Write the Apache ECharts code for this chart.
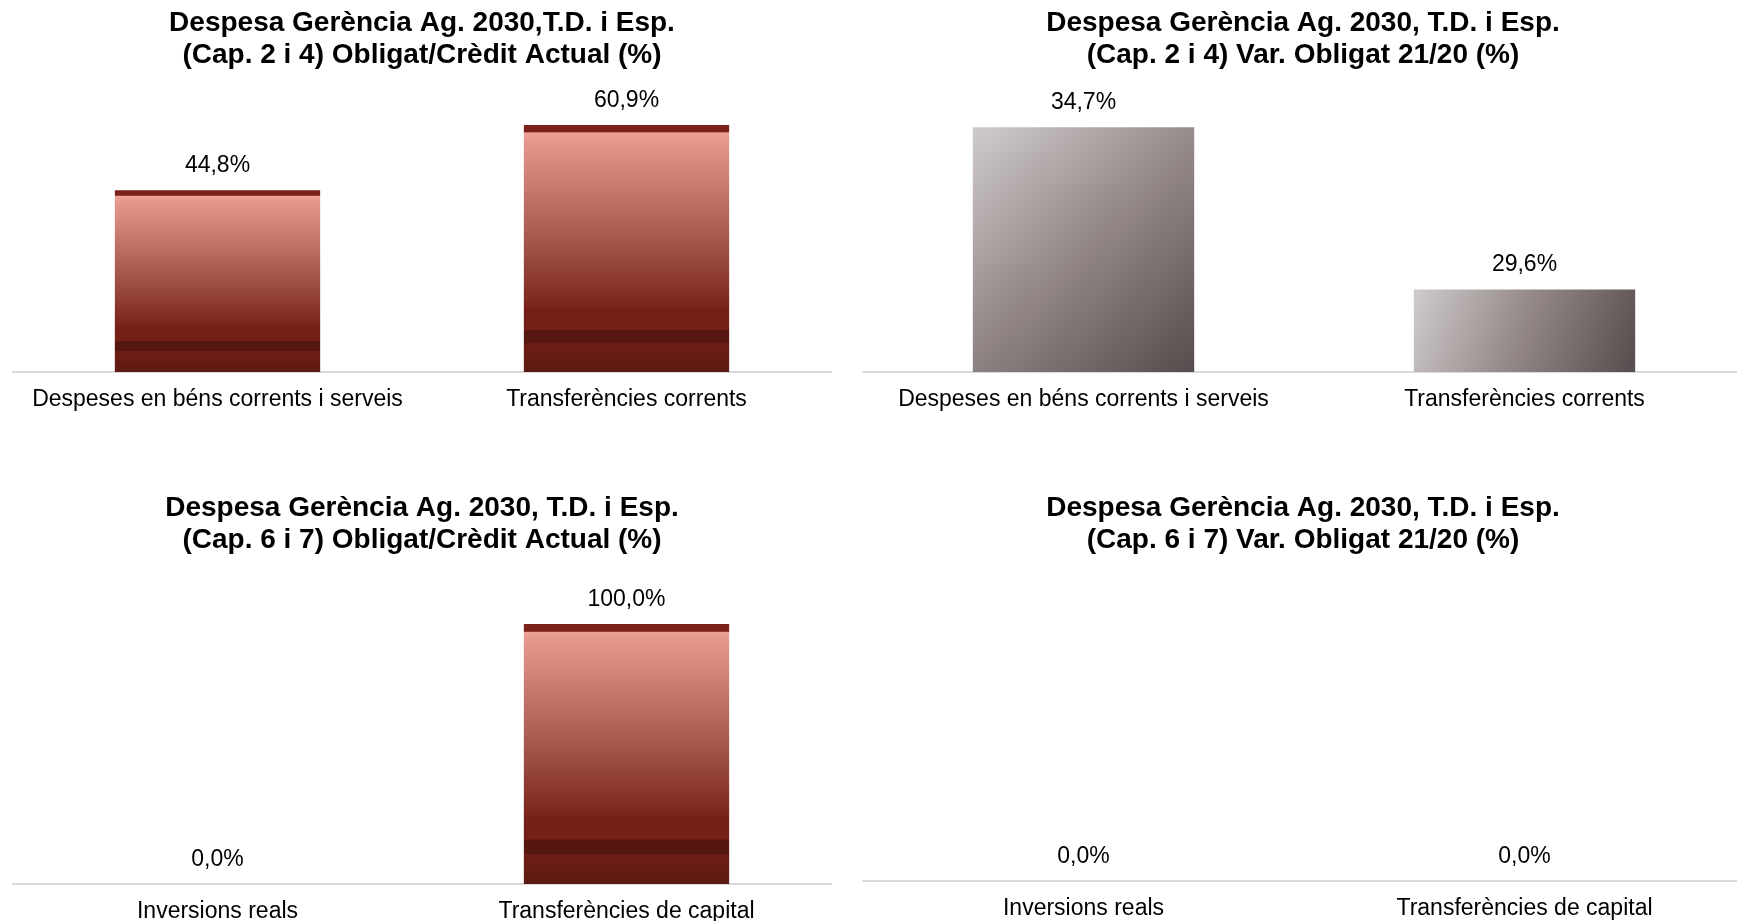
<!DOCTYPE html>
<html>
<head>
<meta charset="utf-8">
<script src="https://cdn.jsdelivr.net/npm/echarts@6/dist/echarts.min.js"></script>
<style>
html,body{margin:0;padding:0;background:#fff;}
#chart{width:1737px;height:921px;}
</style>
</head>
<body>
<div id="chart"></div>
<script>
// ---- data ----
const catsCap24 = ['Despeses en béns corrents i serveis', 'Transferències corrents'];
const catsCap67 = ['Inversions reals', 'Transferències de capital'];
const obligCap24 = [44.8, 60.9];
const varCap24 = [34.7, 29.6];
const obligCap67 = [0.0, 100.0];
const varCap67 = [0.0, 0.0];
const titleTexts = [
  'Despesa Gerència Ag. 2030,T.D. i Esp.\n(Cap. 2 i 4) Obligat/Crèdit Actual (%)',
  'Despesa Gerència Ag. 2030, T.D. i Esp.\n(Cap. 2 i 4) Var. Obligat 21/20 (%)',
  'Despesa Gerència Ag. 2030, T.D. i Esp.\n(Cap. 6 i 7) Obligat/Crèdit Actual (%)',
  'Despesa Gerència Ag. 2030, T.D. i Esp.\n(Cap. 6 i 7) Var. Obligat 21/20 (%)'
];

const FONT = '"Liberation Sans", Arial, sans-serif';

const redFill = {
  type: 'linear', x: 0, y: 0, x2: 0, y2: 1,
  colorStops: [
    { offset: 0, color: '#7a2218' },
    { offset: 0.028, color: '#7a2218' },
    { offset: 0.032, color: '#eca296' },
    { offset: 0.06, color: '#e6988c' },
    { offset: 0.46, color: '#a6584d' },
    { offset: 0.74, color: '#7a2419' },
    { offset: 0.742, color: '#742016' },
    { offset: 0.828, color: '#742016' },
    { offset: 0.83, color: '#55170f' },
    { offset: 0.883, color: '#55170f' },
    { offset: 0.885, color: '#6e1d15' },
    { offset: 1, color: '#5d1a12' }
  ]
};
const grayFill = {
  type: 'linear', x: 0, y: 0, x2: 1, y2: 1,
  colorStops: [
    { offset: 0, color: '#d0cbcb' },
    { offset: 0.5, color: '#928686' },
    { offset: 1, color: '#574c4d' }
  ]
};

function fmt(v) { return v.toFixed(1).replace('.', ',') + '%'; }

const grids = [
  { left: 13, top: 88, width: 818, height: 284 },
  { left: 863, top: 86, width: 882, height: 286 },
  { left: 13, top: 572, width: 818, height: 312 },
  { left: 863, top: 570, width: 882, height: 311 }
];
const cats = [catsCap24, catsCap24, catsCap67, catsCap67];
const yRanges = [[0, 70], [27, 36], [0, 120], [0, 1]];
const values = [obligCap24, varCap24, obligCap67, varCap67];
const fills = [redFill, grayFill, redFill, grayFill];
const titlePos = [[422, 7], [1303, 7], [422, 492], [1303, 492]];

const option = {
  animation: false,
  backgroundColor: '#ffffff',
  title: titleTexts.map((t, i) => ({
    text: t,
    left: titlePos[i][0],
    top: titlePos[i][1],
    textAlign: 'center',
    padding: 0,
    textStyle: { fontFamily: FONT, fontSize: 28, fontWeight: 'bold', color: '#000', lineHeight: 32 }
  })),
  grid: grids.map(g => Object.assign({ containLabel: false, outerBoundsMode: 'none' }, g)),
  xAxis: cats.map((c, i) => ({
    type: 'category',
    gridIndex: i,
    data: c,
    axisLine: { show: true, lineStyle: { color: '#d9d9d9', width: 2 } },
    axisTick: { show: false },
    axisLabel: { fontFamily: FONT, fontSize: 23, color: '#000', margin: 16, interval: 0 }
  })),
  yAxis: yRanges.map((r, i) => ({
    type: 'value', gridIndex: i, min: r[0], max: r[1], show: false,
    splitLine: { show: false }
  })),
  series: values.map((v, i) => ({
    type: 'bar',
    xAxisIndex: i,
    yAxisIndex: i,
    data: v,
    barWidth: '50.2%',
    clip: true,
    itemStyle: { color: fills[i] },
    label: {
      show: true, position: 'top', distance: 13,
      fontFamily: FONT, fontSize: 23, color: '#000',
      formatter: p => fmt(p.value)
    }
  }))
};

const chart = echarts.init(document.getElementById('chart'), null, { renderer: 'canvas' });
chart.setOption(option);
</script>
</body>
</html>
